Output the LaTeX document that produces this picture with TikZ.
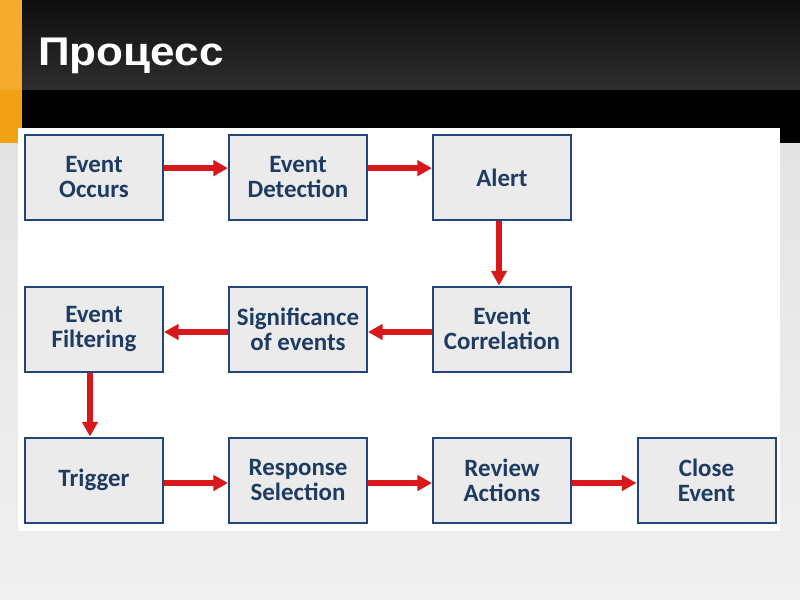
\documentclass[tikz,border=0pt]{standalone}
\usepackage{fontspec}
\setmainfont{Carlito}
\newfontfamily\titlefont{Liberation Sans}
\usetikzlibrary{arrows.meta}
\definecolor{navy}{HTML}{22467A}
\definecolor{boxtext}{HTML}{1E3B62}
\definecolor{boxfill}{HTML}{EBEBEC}
\definecolor{arr}{HTML}{D7191C}
\definecolor{orangeA}{HTML}{F5AB2E}
\definecolor{orangeB}{HTML}{F0A114}
\definecolor{bandtop}{HTML}{0E0E0E}
\definecolor{bandbot}{HTML}{2E2E2E}
\definecolor{bgtop}{HTML}{E4E4E4}
\definecolor{bgbot}{HTML}{F0F0F0}
\begin{document}
\begin{tikzpicture}[x=0.75pt,y=-0.75pt,
  stepbox/.style={draw=navy,line width=1.5pt,fill=boxfill,text=boxtext,
    font=\fontsize{18.7}{18.75}\selectfont\bfseries,align=center,
    minimum width=103.5pt,minimum height=63.75pt,inner sep=0pt},
  flow/.style={arr,line width=4.5pt,-{Triangle[width=11.5pt,length=11pt]}}]
\useasboundingbox (0,0) rectangle (800,600);
% background
\fill[top color=bgtop,bottom color=bgbot] (0,143) rectangle (800,600);
\fill[top color=bandtop,bottom color=bandbot] (0,0) rectangle (800,90);
\fill[black] (0,90) rectangle (800,143);
\fill[orangeA] (0,0) rectangle (22,90);
\fill[orangeB] (0,90) rectangle (22,143);
\fill[white] (18,128) rectangle (780,531);
% title
\node[anchor=base west,inner sep=0pt,text=white,
  font=\titlefont\bfseries\fontsize{30}{32}\selectfont] (title) at (38,65) {\scalebox{1.1}[1]{Процесс}};
% boxes
\node[stepbox] (b1) at (94,177.5) {Event\\Occurs};
\node[stepbox] (b2) at (298,177.5) {Event\\Detection};
\node[stepbox] (b3) at (502,177.5) {Alert};
\node[stepbox] (b4) at (502,329) {Event\\Correlation};
\node[stepbox] (b5) at (298,329) {Significance\\of events};
\node[stepbox] (b6) at (94,329) {Event\\Filtering};
\node[stepbox] (b7) at (94,480) {Trigger};
\node[stepbox] (b8) at (298,480) {Response\\Selection};
\node[stepbox] (b9) at (502,480) {Review\\Actions};
\node[stepbox] (b10) at (706.5,480) {Close\\Event};
% arrows
\draw[flow] ([yshift=7pt]b1.east) -- ([yshift=7pt]b2.west);
\draw[flow] ([yshift=7pt]b2.east) -- ([yshift=7pt]b3.west);
\draw[flow] ([xshift=-2.25pt]b3.south) -- ([xshift=-2.25pt]b4.north);
\draw[flow] ([yshift=-2.25pt]b4.west) -- ([yshift=-2.25pt]b5.east);
\draw[flow] ([yshift=-2.25pt]b5.west) -- ([yshift=-2.25pt]b6.east);
\draw[flow] ([xshift=-3pt]b6.south) -- ([xshift=-3pt]b7.north);
\draw[flow] ([yshift=-2.25pt]b7.east) -- ([yshift=-2.25pt]b8.west);
\draw[flow] ([yshift=-2.25pt]b8.east) -- ([yshift=-2.25pt]b9.west);
\draw[flow] ([yshift=-2.25pt]b9.east) -- ([yshift=-2.25pt]b10.west);
\end{tikzpicture}
\end{document}
